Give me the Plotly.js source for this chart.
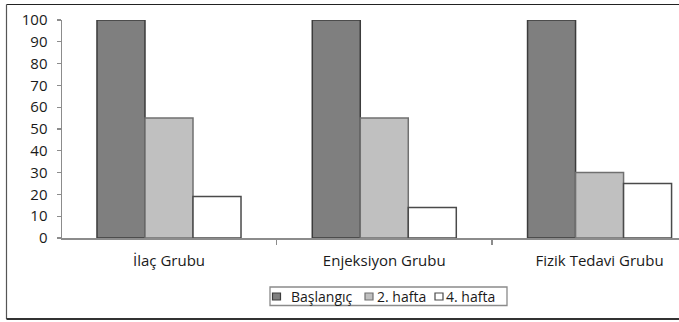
<!DOCTYPE html>
<html>
<head>
<meta charset="utf-8">
<script src="https://cdn.plot.ly/plotly-3.0.1.min.js"></script>
<style>html,body{margin:0;padding:0;background:#fff;overflow:hidden;}</style>
</head>
<body>
<div id="chart" style="width:679px;height:322px;"></div>
<script>
// ---- data ----
const categories = ["İlaç Grubu", "Enjeksiyon Grubu", "Fizik Tedavi Grubu"];
const seriesNames = ["Başlangıç", "2. hafta", "4. hafta"];
const baslangic = [100, 100, 100];
const hafta2 = [55, 55, 30];
const hafta4 = [19, 14, 25];
const yTicks = [0, 10, 20, 30, 40, 50, 60, 70, 80, 90, 100];

// ---- styles ----
const fills = ["#7f7f7f", "#c0c0c0", "#ffffff"];
const outlines = ["#3c3c3c", "#707070", "#4a4a4a"];
const FONT = "Open Sans, DejaVu Sans, sans-serif";
const TXT = "#1a1a1a";

const seriesValues = [baslangic, hafta2, hafta4];
const traces = seriesValues.map((vals, i) => ({
  type: "bar",
  name: seriesNames[i],
  x: categories,
  y: vals,
  marker: {color: fills[i], line: {color: outlines[i], width: 1.5}},
  hoverinfo: "skip"
}));

// pixel -> paper helpers (plot area: x 62..679, y 20..238)
const L = 62, R = 679, T = 20, B = 238;
const px = v => (v - L) / (R - L);
const py = v => (B - v) / (B - T);

const shapes = [
  // outer frame
  {type: "line", xref: "paper", yref: "paper", x0: px(6.5), x1: px(700), y0: py(4.5), y1: py(4.5), line: {color: "#222", width: 1.2}},
  {type: "line", xref: "paper", yref: "paper", x0: px(6.5), x1: px(6.5), y0: py(4.5), y1: py(319), line: {color: "#555", width: 1.2}},
  {type: "line", xref: "paper", yref: "paper", x0: px(6.5), x1: px(700), y0: py(319), y1: py(319), line: {color: "#333", width: 2.2}},
  // legend box
  {type: "rect", xref: "paper", yref: "paper", x0: px(270), x1: px(507), y0: py(287), y1: py(305.5), line: {color: "#8a8a8a", width: 1.3}, fillcolor: "rgba(0,0,0,0)"}
];
const annotations = [];
const symX = [272.5, 365, 435];
const txtX = [289, 375, 444];
const legY = 296.5;
seriesNames.forEach((n, i) => {
  shapes.push({type: "rect", xref: "paper", yref: "paper",
    x0: px(symX[i]), x1: px(symX[i] + 8), y0: py(legY - 3.5), y1: py(legY + 3.5),
    fillcolor: fills[i], line: {color: outlines[i], width: 1.2}});
  annotations.push({xref: "paper", yref: "paper", x: px(txtX[i]), y: py(legY), xanchor: "left", yanchor: "middle",
    text: n, showarrow: false, font: {family: FONT, size: 14, color: TXT}});
});

const layout = {
  width: 679, height: 322,
  margin: {l: L, r: 679 - R, t: T, b: 322 - B, pad: 0},
  paper_bgcolor: "#fff", plot_bgcolor: "#fff",
  showlegend: false,
  barmode: "group",
  bargap: 0.331, bargroupgap: 0,
  font: {family: FONT, size: 14, color: TXT},
  xaxis: {
    type: "category", range: [-0.497, 2.369],
    tickson: "boundaries", ticks: "outside", ticklen: 5, tickcolor: "#8c8c8c", tickwidth: 1.3,
    showline: true, linecolor: "#8c8c8c", linewidth: 1.5,
    showgrid: false, zeroline: false, ticklabelstandoff: 8,
    tickfont: {family: FONT, size: 15, color: TXT}, fixedrange: true
  },
  yaxis: {
    range: [0, 100], tickvals: yTicks, ticktext: yTicks.map(String),
    ticks: "outside", ticklen: 4, tickcolor: "#8c8c8c", tickwidth: 1.3,
    showline: true, linecolor: "#8c8c8c", linewidth: 1.5,
    showgrid: false, zeroline: false, ticklabelstandoff: 6,
    tickfont: {family: FONT, size: 15, color: TXT}, fixedrange: true
  },
  shapes: shapes,
  annotations: annotations
};

Plotly.newPlot("chart", traces, layout, {staticPlot: true, displayModeBar: false});
</script>
</body>
</html>
